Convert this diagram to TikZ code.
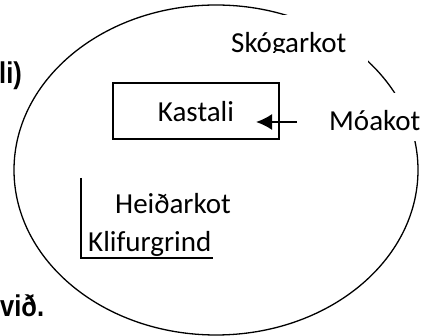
\documentclass[tikz,border=0pt]{standalone}
\usepackage{fontspec}
\setmainfont{Carlito}
\newfontfamily\arialfont{Liberation Sans}[FakeStretch=0.85]
\usetikzlibrary{arrows.meta, positioning}

\begin{document}
\begin{tikzpicture}[
      x=1pt, y=-1pt,
      place/.style={font=\fontsize{29}{34}\selectfont, inner sep=0pt, anchor=base west},
      textbox/.style={font=\fontsize{29}{34}\selectfont, fill=white, anchor=north west, text width=131pt, inner xsep=6pt, inner ysep=0pt, align=left, text height=37pt, text depth=11pt},
      castle/.style={rectangle, draw, line width=1.8pt, minimum width=166pt, minimum height=56pt, inner sep=0pt, text height=22pt, text depth=0pt, font=\fontsize{29}{34}\selectfont},
      cut/.style={font=\arialfont\bfseries\fontsize{30}{34}\selectfont, inner sep=0pt, anchor=base west},
      arrow/.style={-{Latex[length=16pt,width=16pt]}, line width=2pt}
      ]
      \useasboundingbox (0,0) rectangle (432,336);

      % Cut-off text at the left margin
      \node[cut] (li) at (-1,84) {li)};
      \node[cut] (vid) at (0,317) {við.};

      % Outer ring
      \draw[line width=1.3pt] (216,170) ellipse [x radius=202pt, y radius=165pt];

      % Castle
      \node[castle] (kastali) at (196,111) {Kastali};

      % Farms (white boxes break the ring)
      \node[textbox] (skogar) at (225,15) {Skógarkot};
      \fill[white] ([yshift=10pt]skogar.south west) rectangle (skogar.south east);
      \node[textbox] (moa) at (323,93) {Móakot};
      \node[place] (heidar) at (115,214) {Heiðarkot};
      \node[place] (klifur) at (88,252) {Klifurgrind};

      % Arrow towards the castle
      \coordinate (atail) at (297,122);
      \coordinate (ahead) at (256,122);
      \draw[arrow] (atail) -- (ahead);

      % Corner line at the climbing frame
      \coordinate (ltop) at (81,178);
      \coordinate (lend) at (213,258);
      \draw[line width=1.3pt] (ltop) |- (lend);

   \end{tikzpicture}
\end{document}
